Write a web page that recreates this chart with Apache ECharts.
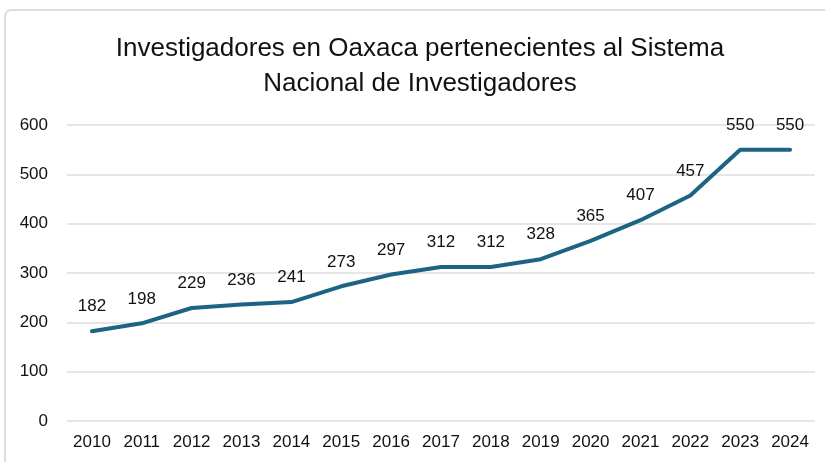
<!DOCTYPE html>
<html>
<head>
<meta charset="utf-8">
<script src="https://cdn.jsdelivr.net/npm/echarts@6/dist/echarts.min.js"></script>
<style>
  html, body { margin: 0; padding: 0; background: #fff; }
  #main { width: 825px; height: 462px; }
</style>
</head>
<body>
<div id="main"></div>
<script>
// datos
const years = ["2010", "2011", "2012", "2013", "2014", "2015", "2016", "2017", "2018", "2019", "2020", "2021", "2022", "2023", "2024"];
const investigadores = [182, 198, 229, 236, 241, 273, 297, 312, 312, 328, 365, 407, 457, 550, 550];
const yTicks = [0, 100, 200, 300, 400, 500, 600];

const chart = echarts.init(document.getElementById("main"));

const option = {
  backgroundColor: "#fff",
  animation: false,
  textStyle: { fontFamily: "Liberation Sans, Arial, sans-serif" },
  title: {
    text: "Investigadores en Oaxaca pertenecientes al Sistema\nNacional de Investigadores",
    left: 415,
    textAlign: "center",
    top: 26,
    textStyle: {
      fontFamily: "Liberation Sans, Arial, sans-serif",
      fontWeight: "normal",
      fontSize: 26,
      lineHeight: 35,
      color: "#111"
    }
  },
  graphic: [
    {
      type: "rect",
      shape: { x: 5, y: 10, width: 840, height: 470, r: 6 },
      style: { fill: "none", stroke: "#dcdcdc", lineWidth: 2 },
      silent: true
    }
  ],
  grid: { left: 67, right: 10, top: 125, bottom: 41 },
  xAxis: {
    type: "category",
    data: years,
    boundaryGap: true,
    axisLine: { show: false },
    axisTick: { show: false },
    axisLabel: { color: "#111", fontSize: 17, margin: 13 }
  },
  yAxis: {
    type: "value",
    min: yTicks[0],
    max: yTicks[yTicks.length - 1],
    interval: 100,
    axisLine: { show: false },
    axisTick: { show: false },
    axisLabel: { color: "#111", fontSize: 17, margin: 19 },
    splitLine: { lineStyle: { color: "#dedede", width: 1.5 } }
  },
  series: [
    {
      type: "line",
      data: investigadores,
      symbol: "circle",
      symbolSize: 0,
      showSymbol: true,
      itemStyle: { color: "#1c6384" },
      lineStyle: { color: "#1c6384", width: 4, cap: "round", join: "round" },
      label: {
        show: true,
        position: "top",
        distance: 16,
        color: "#111",
        fontSize: 17
      }
    }
  ]
};

chart.setOption(option);
</script>
</body>
</html>
